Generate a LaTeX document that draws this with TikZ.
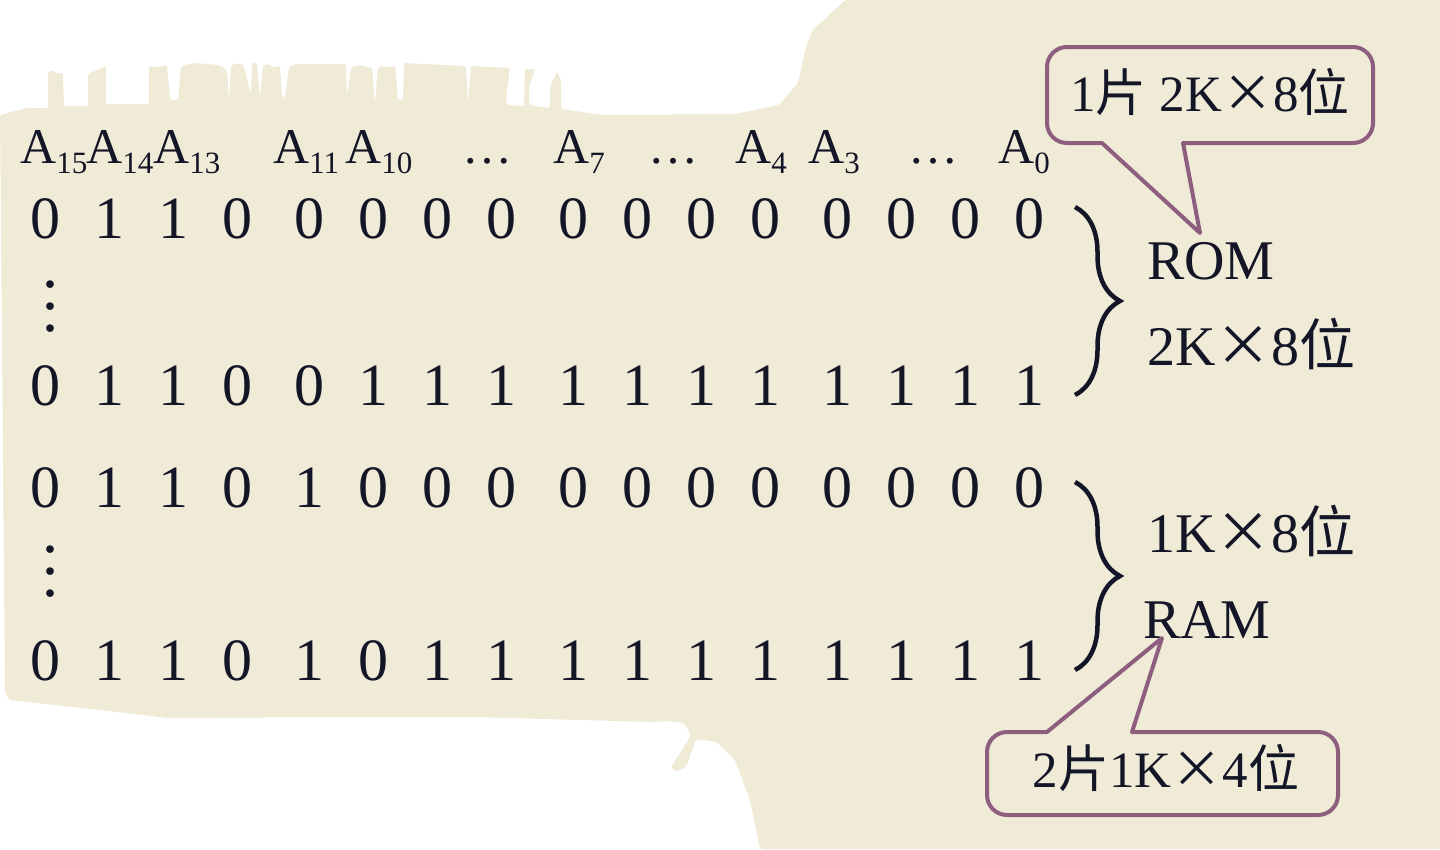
\documentclass[tikz,border=0pt]{standalone}
\usepackage{fontspec}
\setmainfont{Liberation Serif}
\newfontfamily\cjk{Noto Sans CJK SC}
\usetikzlibrary{decorations.pathreplacing}
\definecolor{bg}{HTML}{EFEBD7}
\definecolor{ink}{HTML}{141628}
\definecolor{callout}{HTML}{8E5E7E}
\newcommand\Asub[1]{A\raisebox{-10pt}{\fontsize{31}{31}\selectfont #1}}
\newcommand\tms{{\cjk ×}}
\begin{document}
\begin{tikzpicture}[x=1pt,y=-1pt,
  every node/.style={text=ink,inner sep=0pt},
  digit/.style={font=\fontsize{60}{60}\selectfont,anchor=base},
  hdr/.style={font=\fontsize{50}{50}\selectfont,anchor=base west},
  lab/.style={font=\fontsize{56}{56}\selectfont,anchor=base west},
  ctext/.style={font=\fontsize{51}{51}\selectfont},
  cshape/.style={draw=callout,line width=4pt,fill=bg,line join=round},
  bracestyle/.style={draw=ink,line width=4.5pt,decorate,decoration={brace,amplitude=45pt}},
  vd/.style={font=\fontsize{64}{22}\selectfont,align=center}]
\useasboundingbox (0,0) rectangle (1440,849);
% background
\fill[bg,rounded corners=2pt] (0,115) -- (27,108) -- (48,108) -- (48,72) -- (52,70) -- (58,74) -- (63,73) -- (64,106)
 -- (88,106) -- (88,74) -- (106,66) -- (106,104) -- (149,104) -- (149,66) -- (159,67) -- (167,65)
 -- (170,100) -- (178,100) -- (181,66) -- (195,63) -- (219,65) -- (227,70) -- (229,100) -- (231,65)
 -- (241,63) -- (244,67) -- (251,95) -- (252,62) -- (257,63) -- (260,97) -- (263,65) -- (269,64)
 -- (274,68) -- (280,65) -- (282,98) -- (285,98) -- (289,67) -- (296,64) -- (346,64) -- (347,97)
 -- (351,67) -- (362,65) -- (368,68) -- (372,67) -- (375,103) -- (378,67) -- (384,66) -- (388,68)
 -- (395,65) -- (398,100) -- (403,100) -- (404,63) -- (466,66) -- (468,103) -- (471,66) -- (510,68)
 -- (506,97) -- (507,105) -- (524,106) -- (525,69) -- (535,69) -- (529,87) -- (529,105) -- (550,108)
 -- (550,87) -- (557,72) -- (561,80) -- (561,109) -- (603,115) -- (735,114) -- (779,105) -- (798,83)
 -- (806,47) -- (812,31) -- (845,0) -- (1440,0) -- (1440,849) -- (760,849) -- (750,800) -- (735,760)
 -- (717,742) -- (696,739) -- (686,767) -- (676,772) -- (671,767) -- (684,747) -- (691,735) -- (684,723)
 -- (668,721) -- (653,722) -- (474,717) -- (357,717) -- (168,718) -- (117,712) -- (10,700) -- (5,693) -- cycle;
% header
\node[hdr] (h15) at (20,163) {\Asub{15}};
\node[hdr] (h14) at (86,163) {\Asub{14}};
\node[hdr] (h13) at (153,163) {\Asub{13}};
\node[hdr] (h11) at (273,163) {\Asub{11}};
\node[hdr] (h10) at (345,163) {\Asub{10}};
\node[hdr] (hd1) at (462,163) {…};
\node[hdr] (h7) at (553,163) {\Asub{7}};
\node[hdr] (hd2) at (648,163) {…};
\node[hdr] (h4) at (735,163) {\Asub{4}};
\node[hdr] (h3) at (808,163) {\Asub{3}};
\node[hdr] (hd3) at (908,163) {…};
\node[hdr] (h0) at (998,163) {\Asub{0}};
% digits
\foreach \x/\d [count=\i] in {45/0,109/1,173/1,237/0,309/0,373/0,437/0,501/0,573/0,637/0,701/0,765/0,837/0,901/0,965/0,1029/0}
  \node[digit] (ra\i) at (\x,238) {\d};
\foreach \x/\d [count=\i] in {45/0,109/1,173/1,237/0,309/0,373/1,437/1,501/1,573/1,637/1,701/1,765/1,837/1,901/1,965/1,1029/1}
  \node[digit] (rb\i) at (\x,405) {\d};
\foreach \x/\d [count=\i] in {45/0,109/1,173/1,237/0,309/1,373/0,437/0,501/0,573/0,637/0,701/0,765/0,837/0,901/0,965/0,1029/0}
  \node[digit] (rc\i) at (\x,507) {\d};
\foreach \x/\d [count=\i] in {45/0,109/1,173/1,237/0,309/1,373/0,437/1,501/1,573/1,637/1,701/1,765/1,837/1,901/1,965/1,1029/1}
  \node[digit] (rd\i) at (\x,680) {\d};
\node[vd,anchor=base] (v1) at (50,331) {.\\.\\.};
\node[vd,anchor=base] (v2) at (50,596) {.\\.\\.};
% braces
\coordinate (b1t) at (1075,207); \coordinate (b1b) at (1075,395);
\coordinate (b2t) at (1075,482); \coordinate (b2b) at (1075,670);
\draw[bracestyle] (b1t) -- (b1b);
\draw[bracestyle] (b2t) -- (b2b);
% labels
\node[lab] (rom) at (1147,279) {ROM};
\node[lab] (rom2) at (1147,365) {2K\tms 8{\cjk 位}};
\node[lab] (ram2) at (1147,552) {1K\tms 8{\cjk 位}};
\node[lab] (ram) at (1143,638) {RAM};
% callouts
\coordinate (t1) at (1200,233);
\draw[cshape] (1102,143) [rounded corners=20pt] -- (1047,143) -- (1047,47) -- (1373,47) -- (1373,143) [sharp corners] -- (1183,143) -- (t1) -- cycle;
\node[ctext] (c1) at (1210,92) {1{\cjk 片} 2K\tms 8{\cjk 位}};
\coordinate (t2) at (1162,638);
\draw[cshape] (1132,732) [rounded corners=20pt] -- (1338,732) -- (1338,815) -- (987,815) -- (987,732) [sharp corners] -- (1047,732) -- (t2) -- cycle;
\node[ctext] (c2) at (1166,768) {2{\cjk 片}1K\tms 4{\cjk 位}};
\end{tikzpicture}
\end{document}
